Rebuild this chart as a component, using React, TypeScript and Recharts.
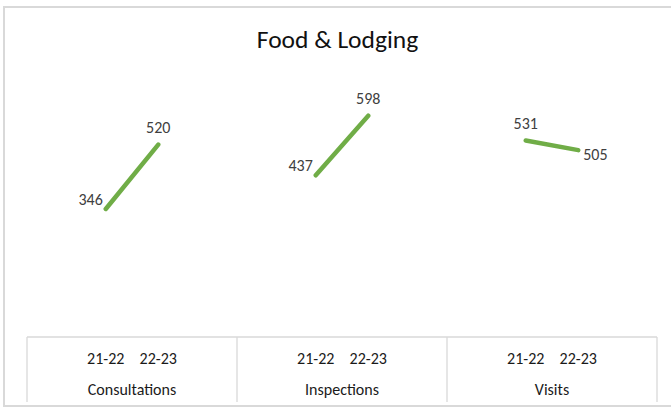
import React from 'react';
import { LineChart, Line, XAxis, YAxis, LabelList } from 'recharts';

const groups = ['Consultations', 'Inspections', 'Visits'];
const periods = ['21-22', '22-23'];
const consultations = [346, 520];
const inspections = [437, 598];
const visits = [531, 505];
const groupValues = [consultations, inspections, visits];

// where each data label sits relative to its point
const labelSides = ['left', 'top', 'left', 'top', 'top', 'right'];

const W = 671;
const H = 412;
const margin = { top: 78, right: 14, left: 27, bottom: 10 };
const slotsPerGroup = 4;

// each group gets an empty slot on both sides, so the segments do not join
const chartData: { key: string; period: string; group: string; value: number | null; n: number }[] = [];
let n = 0;
groups.forEach((g, gi) => {
  chartData.push({ key: g + '-a', period: '', group: g, value: null, n: -1 });
  periods.forEach((p, pi) => {
    chartData.push({ key: g + '|' + p, period: p, group: g, value: groupValues[gi][pi], n: n++ });
  });
  chartData.push({ key: g + '-b', period: '', group: g, value: null, n: -1 });
});

const font = 'Calibri, Carlito, Lato, sans-serif';
const band = (W - margin.left - margin.right) / chartData.length;

const AxisTick = (props: any) => {
  const { x, y, index } = props;
  const row = chartData[index];
  const i = index % slotsPerGroup;
  const top = y - 8;
  return (
    <g>
      {i === 0 && <line x1={x - band / 2} x2={x - band / 2} y1={top} y2={top + 65} stroke="#d9d9d9" strokeWidth={1.3} />}
      {index === chartData.length - 1 && (
        <line x1={x + band / 2} x2={x + band / 2} y1={top} y2={top + 65} stroke="#d9d9d9" strokeWidth={1.3} />
      )}
      {row.period && (
        <text x={x} y={top + 27} textAnchor="middle" fontSize={16} fill="#1a1a1a" fontFamily={font}>
          {row.period}
        </text>
      )}
      {i === 1 && (
        <text x={x + band / 2} y={top + 58} textAnchor="middle" fontSize={16} fill="#1a1a1a" fontFamily={font}>
          {row.group}
        </text>
      )}
    </g>
  );
};

const ValueLabel = (props: any) => {
  const { x, y, value, index } = props;
  if (value == null) return null;
  const side = labelSides[chartData[index].n];
  let lx = x;
  let ly = y - 12;
  let anchor = 'middle';
  if (side === 'left') {
    lx = x - 3;
    ly = y - 4;
    anchor = 'end';
  } else if (side === 'right') {
    lx = x + 5;
    ly = y + 10;
    anchor = 'start';
  }
  return (
    <text x={lx} y={ly} textAnchor={anchor} fontSize={16} fill="#404040" fontFamily={font}>
      {value}
    </text>
  );
};

export default function App() {
  return (
    <div style={{ position: 'absolute', left: 0, top: 0, width: W, height: H, background: '#fff', overflow: 'hidden' }}>
      <div
        style={{
          position: 'absolute',
          left: 3,
          top: 6,
          width: 680,
          height: 401,
          border: '2px solid #d9d9d9',
          boxSizing: 'border-box',
        }}
      />
      <div
        style={{
          position: 'absolute',
          left: 2,
          top: 25,
          width: W,
          textAlign: 'center',
          fontFamily: font,
          fontSize: 25.5,
          lineHeight: '30px',
          color: '#111',
        }}
      >
        Food &amp; Lodging
      </div>
      <div style={{ position: 'absolute', left: 0, top: 0 }}>
        <LineChart width={W} height={H} data={chartData} margin={margin}>
          <XAxis
            dataKey="key"
            height={65}
            interval={0}
            tickLine={false}
            padding={{ left: band / 2, right: band / 2 }}
            axisLine={{ stroke: '#d9d9d9', strokeWidth: 1.3 }}
            tick={(p: any) => <AxisTick {...p} />}
          />
          <YAxis hide domain={[0, 700]} />
          <Line
            dataKey="value"
            stroke="#70ad47"
            strokeWidth={4.5}
            strokeLinecap="round"
            dot={false}
            activeDot={false}
            isAnimationActive={false}
          >
            <LabelList dataKey="value" content={(p: any) => <ValueLabel {...p} />} />
          </Line>
        </LineChart>
      </div>
    </div>
  );
}
